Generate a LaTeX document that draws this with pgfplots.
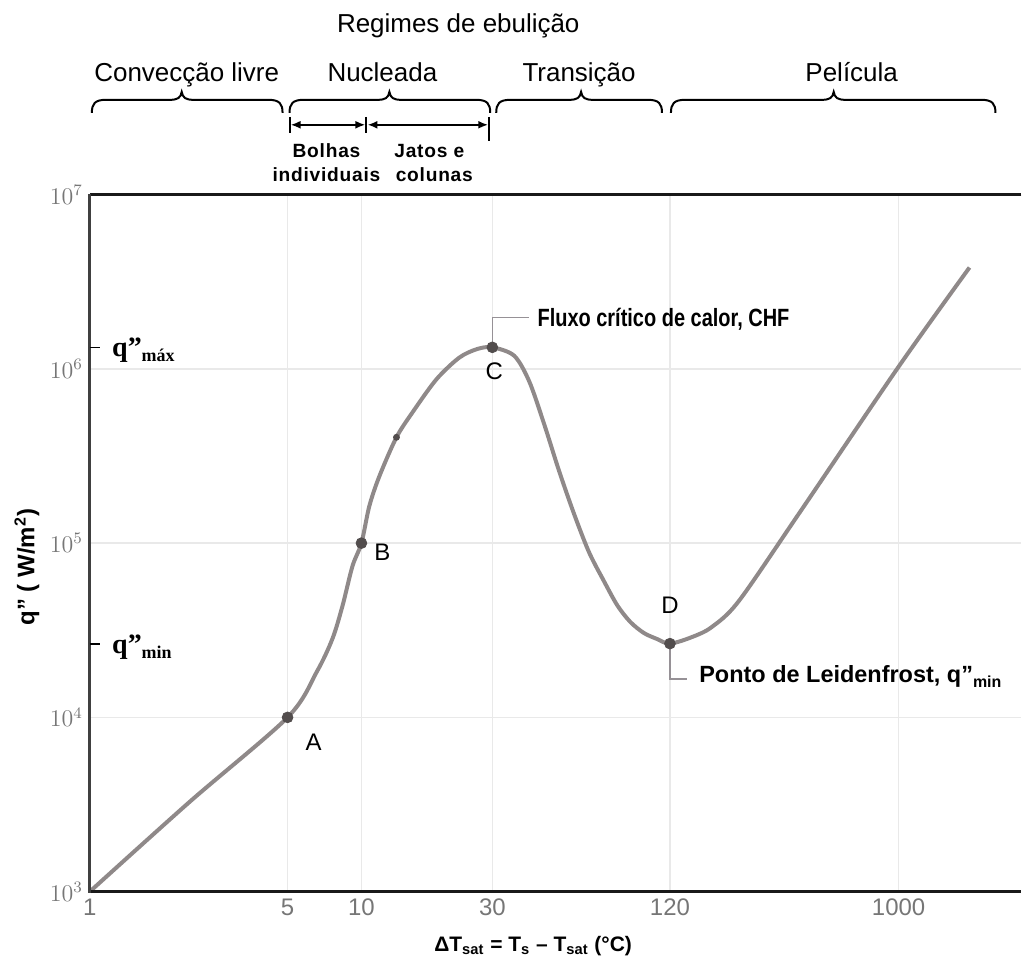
\documentclass[border=0pt]{standalone}
\usepackage{pgfplots}
\pgfplotsset{compat=1.18}
\usepackage{pgfplotstable}
\usepackage{graphicx}
\usepackage{fontspec}
\setmainfont{Liberation Sans}
\newfontfamily\timesfont{Liberation Serif}
\newfontfamily\spacedbold[LetterSpace=4]{Liberation Sans Bold}
\usetikzlibrary{arrows.meta}

\definecolor{curvegray}{RGB}{143,137,137}
\definecolor{dotgray}{RGB}{82,77,77}
\definecolor{gridgray}{RGB}{233,233,233}
\definecolor{ticktext}{RGB}{118,118,118}
\definecolor{leader}{RGB}{150,145,150}

\newcommand\fs[1]{\fontsize{#1}{#1}\selectfont}
% curly brace over a regime: left end, tip, right end (pixel units)
\newcommand\topbrace[3]{%
  \draw[line width=1pt] (#1,113) .. controls (#1,104) and (#1+3,100) .. (#1+14,100)
    -- (#2-12,100) .. controls (#2-4,100) and (#2-1,98) .. (#2,92)
    .. controls (#2+1,98) and (#2+4,100) .. (#2+12,100)
    -- (#3-14,100) .. controls (#3-3,100) and (#3,104) .. (#3,113);}

% boiling curve: u = position along the Delta T scale, q = heat flux (W/m^2)
\pgfplotstableread{
u      q
0      1000
0.368  3280
0.728  10000
0.835  18200
0.893  28200
0.930  43500
0.967  73800
1.000  100000
1.029  163000
1.066  242000
1.129  405000
1.188  563000
1.276  871000
1.360  1160000
1.426  1300000
1.482  1330000
1.5625 1190000
1.618  847000
1.673  481000
1.728  259000
1.783  147000
1.838  88700
1.893  60500
1.942  44000
1.990  35300
2.040  30500
2.088  28200
2.136  26500
2.217  28900
2.290  33000
2.390  46600
2.610  147000
2.978  1030000
3.239  3820000
}\boilingcurve

\begin{document}
\begin{tikzpicture}
\begin{axis}[
  scale only axis,
  width=466.5pt, height=349pt,
  xmin=0, xmax=3.4301,
  ymode=log, ymin=1e3, ymax=1e7,
  xtick={0,0.728,1,1.482,2.136,2.978},
  xticklabels={1,5,10,30,120,1000},
  ytick={1e3,1e4,1e5,1e6,1e7},
  grid=major,
  major grid style={gridgray, line width=0.8pt},
  major tick length=0pt,
  minor tick length=0pt,
  tick style={draw=none},
  axis line style={draw=none},
  tick label style={font=\fs{12pt}, text=ticktext},
  clip=false,
]
% leaders to the CHF and Leidenfrost notes
\draw[leader, line width=0.7pt] (axis cs:1.482,1.33e6) -- (axis cs:1.482,1.97e6) -- (axis cs:1.618,1.97e6);
\draw[leader, line width=0.7pt] (axis cs:2.136,2.65e4) -- (axis cs:2.136,1.66e4) -- (axis cs:2.199,1.66e4);

\addplot[curvegray, line width=2pt, smooth, tension=0.5] table {\boilingcurve};
\addplot[only marks, mark=*, mark size=2.7pt, dotgray] coordinates {
  (0.728,10000) (1.000,100000) (1.482,1330000) (2.136,26500)};
\addplot[only marks, mark=*, mark size=1.5pt, dotgray] coordinates {(1.129,405000)};
\end{axis}

\begin{scope}[shift={(current axis.south west)}, xshift=-45pt, yshift=446.5pt, x=0.5pt, y=-0.5pt]
\path (0,0) rectangle (1023,960);
% frame: top, left, bottom
\draw[line width=1.6pt, black!90] (1023,195) -- (90,195);
\draw[line width=1.6pt, black!90] (90,893) -- (1023,893);
\draw[line width=1.4pt, black!75] (90,194) -- (90,894);
% short ticks for q''max and q''min
\draw[black, line width=0.8pt] (90,348) -- (100,348);
\draw[black, line width=0.8pt] (90,645) -- (100,645);

% regimes
\node[anchor=base, font=\fs{13pt}] at (459,33) {Regimes de ebulição};
\node[anchor=base, font=\fs{13pt}] at (187,82) {Convecção livre};
\node[anchor=base, font=\fs{13pt}] at (383,82) {Nucleada};
\node[anchor=base, font=\fs{13pt}] at (580,82) {Transição};
\node[anchor=base, font=\fs{13pt}] at (853,82) {Película};
\topbrace{92}{182}{283}
\topbrace{290}{390}{491}
\topbrace{497}{582}{663}
\topbrace{672}{835}{997}

% sub-regimes of nucleate boiling
\draw[line width=1pt] (290,117) -- (290,133);
\draw[line width=1pt] (367,117) -- (367,133);
\draw[line width=1pt] (490,117) -- (490,141);
\draw[line width=1pt, {Latex[length=5pt,width=4pt]}-{Latex[length=5pt,width=4pt]}] (291,125) -- (366,125);
\draw[line width=1pt, {Latex[length=5pt,width=4pt]}-{Latex[length=5pt,width=4pt]}] (368,125) -- (489,125);
\node[anchor=base, font=\spacedbold\fs{9.6pt}] at (327,158) {Bolhas};
\node[anchor=base, font=\spacedbold\fs{9.6pt}] at (327,182) {individuais};
\node[anchor=base, font=\spacedbold\fs{9.6pt}] at (430,158) {Jatos e};
\node[anchor=base, font=\spacedbold\fs{9.6pt}] at (435,182) {colunas};

% point names
\node[font=\fs{12pt}] at (314,743) {A};
\node[font=\fs{12pt}] at (383,553) {B};
\node[font=\fs{12pt}] at (495,372) {C};
\node[font=\fs{12pt}] at (671,606) {D};

% notes
\node[anchor=base west, inner sep=0pt, font=\bfseries\fs{12.5pt}] at (538,327)
  {\scalebox{0.8}[1]{Fluxo crítico de calor, CHF}};
\node[anchor=base west, inner sep=0pt, font=\bfseries\fs{11.75pt}] at (700,684)
  {Ponto de Leidenfrost, q”\raisebox{-2.5pt}{\fs{8pt}min}};
\node[anchor=base west, inner sep=0pt, font=\timesfont\bfseries\fs{14pt}] at (112,357)
  {q”\raisebox{-2.5pt}{\fs{9pt}máx}};
\node[anchor=base west, inner sep=0pt, font=\timesfont\bfseries\fs{14pt}] at (112,655)
  {q”\raisebox{-2.5pt}{\fs{9pt}min}};

% axis titles
\node[rotate=90, font=\bfseries\fs{12pt}] at (27,568) {q” ( W/m\textsuperscript{2})};
\node[anchor=base, font=\bfseries\fs{10.5pt}] at (534,953)
  {ΔT\textsubscript{sat} = T\textsubscript{s} – T\textsubscript{sat} (°C)};
\end{scope}
\end{tikzpicture}
\end{document}
